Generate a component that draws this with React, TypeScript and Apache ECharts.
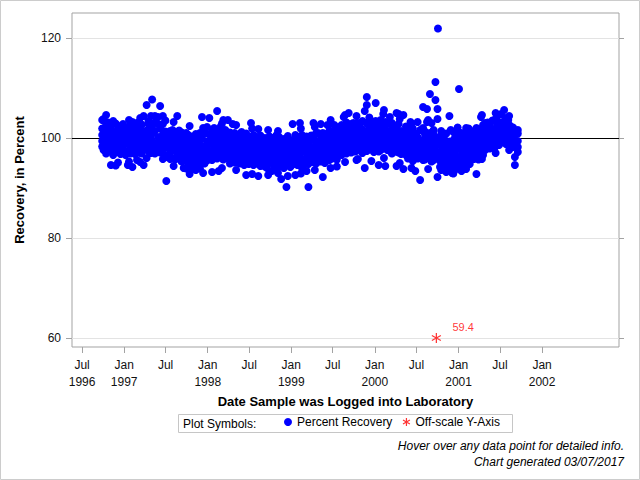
import React, { useEffect, useRef } from "react";
import * as echarts from "echarts";

// ---- Data: [sample log date, recovery values (%) logged around that date] ----
const samples1996 = [
  ["1996-09-27", [100.6, 103.6, 98.3, 101.9, 99.4]],
  ["1996-10-03", [99.2, 101.8, 97.6, 103.8, 100.4]],
  ["1996-10-14", [98.4, 102.6, 104.6, 99.8, 96.9]],
  ["1996-10-24", [100.9, 97.8, 103.1, 98.9, 101.5]],
  ["1996-11-04", [94.6, 99.6, 102.2, 97.3, 100.8]],
  ["1996-11-14", [98.1, 103.4, 96.6, 101.2, 99.0]],
  ["1996-11-25", [94.5, 100.2, 97.9, 102.9, 98.6]],
  ["1996-12-05", [99.4, 101.9, 97.2, 100.6, 95.1]],
  ["1996-12-16", [98.3, 102.4, 100.1, 96.8, 99.0]],
  ["1996-12-27", [101.3, 97.7, 99.7, 102.8, 98.5]],
];

const samples1997 = [
  ["1997-01-07", [100.4, 96.6, 98.9, 101.7, 99.3]],
  ["1997-01-17", [94.6, 99.9, 102.1, 97.4, 100.8]],
  ["1997-01-22", [103.6, 95.3]],
  ["1997-01-28", [98.2, 101.2, 96.9, 99.5, 102.6]],
  ["1997-02-06", [103.2, 97.9, 100.3, 94.2, 99.1]],
  ["1997-02-17", [101.6, 96.8, 99.8, 102.4, 98.6]],
  ["1997-02-26", [100.7, 97.3, 103.0, 99.2, 95.6]],
  ["1997-03-07", [103.2, 98.4, 100.9, 97.1, 101.8]],
  ["1997-03-12", [95.2, 104.0]],
  ["1997-03-18", [99.6, 102.7, 96.9, 100.2, 98.8]],
  ["1997-03-27", [104.4, 97.6, 101.4, 99.3, 94.6]],
  ["1997-04-09", [106.6, 98.2, 100.5, 96.0, 99.7]],
  ["1997-04-17", [102.9, 101.8, 97.4, 99.1, 103.4]],
  ["1997-04-28", [104.4, 98.9, 100.8, 97.0, 102.2]],
  ["1997-05-03", [107.7, 99.5, 102.5, 97.8, 100.9]],
  ["1997-05-15", [104.4, 98.3, 101.4, 96.9, 103.1]],
  ["1997-05-29", [100.2, 97.5, 102.8, 99.0, 104.2]],
  ["1997-06-07", [106.4, 99.8, 97.1, 101.9, 98.4]],
  ["1997-06-19", [104.4, 95.8, 100.7, 102.8, 97.8]],
  ["1997-06-30", [99.3, 96.6, 101.3, 98.1, 103.5]],
  ["1997-07-04", [91.4, 98.6, 100.9, 96.2, 99.6]],
  ["1997-07-21", [101.4, 97.2, 95.8, 99.9, 98.3]],
  ["1997-07-31", [100.6, 96.0, 98.8, 101.6, 97.5]],
  ["1997-08-05", [103.2, 94.4]],
  ["1997-08-11", [99.2, 95.7, 101.2, 97.9, 100.3]],
  ["1997-08-21", [104.4, 98.5, 96.4, 100.9, 97.2]],
  ["1997-08-29", [101.5, 96.9, 99.7, 95.9, 98.1]],
  ["1997-09-09", [100.8, 95.3, 98.2, 96.7, 101.1, 99.4]],
  ["1997-09-18", [94.0, 97.9, 100.2, 96.1, 98.9]],
  ["1997-09-29", [101.0, 95.8, 99.1, 97.3, 93.9]],
  ["1997-10-08", [97.2, 100.6, 95.1, 98.6, 94.6]],
  ["1997-10-14", [102.4, 92.8]],
  ["1997-10-20", [99.8, 96.3, 93.6, 97.8, 100.3]],
  ["1997-10-30", [95.7, 98.9, 96.8, 100.1, 94.3]],
  ["1997-11-10", [93.6, 97.5, 99.6, 95.4, 98.3, 100.8]],
  ["1997-11-19", [96.2, 99.1, 94.8, 97.0, 100.4]],
  ["1997-11-28", [98.6, 95.6, 101.0, 96.9, 93.9]],
  ["1997-12-07", [104.2, 97.6, 99.9, 95.3, 98.4]],
  ["1997-12-12", [93.0, 102.0]],
  ["1997-12-18", [96.4, 100.9, 94.9, 98.0, 101.4]],
  ["1997-12-29", [99.3, 96.9, 102.2, 97.7, 95.5]],
];

const samples1998 = [
  ["1998-01-08", [104.0, 98.8, 96.1, 100.7, 97.4]],
  ["1998-01-20", [95.6, 99.6, 101.6, 97.0, 93.2]],
  ["1998-01-29", [98.2, 100.3, 96.5, 102.0, 99.1]],
  ["1998-02-11", [105.4, 97.9, 100.9, 95.9, 98.6]],
  ["1998-02-18", [93.4, 99.4, 96.8, 101.3, 97.5]],
  ["1998-02-27", [100.1, 96.2, 98.3, 102.3, 99.0]],
  ["1998-03-04", [94.0, 102.9]],
  ["1998-03-10", [103.6, 97.1, 99.8, 95.7, 100.8]],
  ["1998-03-19", [98.7, 101.6, 96.4, 99.2, 97.6]],
  ["1998-03-30", [103.6, 95.9, 100.2, 98.1, 96.8]],
  ["1998-04-08", [99.5, 96.3, 101.1, 97.8, 94.9]],
  ["1998-04-20", [102.8, 98.4, 95.5, 100.3, 97.0]],
  ["1998-04-29", [96.6, 99.9, 95.1, 98.7, 101.0]],
  ["1998-05-05", [102.6, 93.6]],
  ["1998-05-11", [97.6, 100.5, 95.4, 99.0, 96.5]],
  ["1998-05-20", [94.9, 98.2, 100.6, 96.9, 99.6]],
  ["1998-05-29", [99.3, 95.8, 97.4, 101.2, 98.5]],
  ["1998-06-09", [96.1, 99.7, 94.6, 98.0, 100.4]],
  ["1998-06-18", [97.3, 100.9, 95.3, 98.8, 92.6]],
  ["1998-06-29", [99.2, 96.4, 94.8, 97.8, 100.1]],
  ["1998-07-09", [103.0, 97.0, 99.5, 95.2, 98.3]],
  ["1998-07-14", [92.8, 101.9]],
  ["1998-07-20", [96.0, 100.6, 94.6, 98.7, 97.6]],
  ["1998-07-30", [99.8, 95.6, 97.2, 100.2, 94.9]],
  ["1998-08-10", [101.8, 96.6, 92.4, 99.1, 97.9]],
  ["1998-08-19", [95.2, 98.4, 100.5, 96.3, 94.4]],
  ["1998-08-28", [97.1, 99.9, 95.8, 98.9, 96.7]],
  ["1998-09-08", [94.3, 98.1, 100.0, 96.2, 97.5]],
  ["1998-09-17", [99.4, 95.3, 97.0, 94.0, 98.6]],
  ["1998-09-22", [101.6, 92.6]],
  ["1998-09-28", [96.6, 100.3, 95.0, 98.0, 99.2]],
  ["1998-10-08", [93.4, 97.4, 99.6, 95.6, 98.4]],
  ["1998-10-19", [96.3, 100.1, 94.4, 97.8, 99.0]],
  ["1998-10-29", [98.7, 95.1, 97.1, 100.6, 94.1]],
  ["1998-11-04", [101.4, 93.0]],
  ["1998-11-09", [95.9, 99.3, 97.6, 94.3, 100.2]],
  ["1998-11-18", [97.0, 94.8, 98.8, 96.4, 91.8]],
  ["1998-11-30", [99.8, 95.5, 97.9, 94.0, 98.5]],
  ["1998-12-11", [90.2, 96.7, 99.1, 94.6, 97.6]],
  ["1998-12-17", [95.4, 100.4, 92.4, 98.3, 96.2]],
  ["1998-12-28", [97.3, 94.2, 99.6, 95.9, 98.9]],
];

const samples1999 = [
  ["1999-01-07", [102.8, 96.5, 99.0, 94.7, 97.7]],
  ["1999-01-19", [95.2, 100.6, 92.6, 98.1, 96.9]],
  ["1999-01-28", [99.4, 94.6, 97.5, 100.2, 95.7]],
  ["1999-02-08", [103.0, 98.3, 95.6, 100.0, 96.8]],
  ["1999-02-12", [101.9, 92.9]],
  ["1999-02-17", [94.0, 99.1, 97.3, 100.6, 95.1]],
  ["1999-02-26", [97.9, 95.8, 99.7, 94.7, 98.6]],
  ["1999-03-09", [93.4, 98.0, 100.3, 95.5, 97.0]],
  ["1999-03-17", [90.2, 96.4, 99.2, 94.8, 98.7]],
  ["1999-03-29", [100.5, 95.9, 97.6, 99.6, 96.6]],
  ["1999-04-08", [103.0, 97.3, 95.2, 99.8, 98.2]],
  ["1999-04-14", [102.2, 93.6]],
  ["1999-04-19", [96.1, 100.9, 94.9, 98.6, 97.2]],
  ["1999-04-28", [99.3, 95.6, 101.0, 97.8, 96.7]],
  ["1999-05-10", [102.8, 98.1, 95.3, 100.4, 96.9]],
  ["1999-05-19", [92.2, 97.5, 99.7, 95.9, 101.0]],
  ["1999-05-28", [98.9, 96.3, 100.8, 97.1, 95.0]],
  ["1999-06-08", [102.6, 98.5, 96.2, 100.6, 97.4]],
  ["1999-06-17", [95.6, 99.9, 101.5, 97.9, 96.6]],
  ["1999-06-22", [103.6, 94.0]],
  ["1999-06-28", [100.2, 97.0, 98.8, 101.2, 95.9]],
  ["1999-07-08", [102.6, 98.9, 96.4, 100.7, 97.8]],
  ["1999-07-19", [95.7, 99.6, 101.6, 97.3, 94.3]],
  ["1999-07-29", [100.9, 96.9, 99.2, 98.2, 102.1]],
  ["1999-08-09", [99.6, 102.6, 97.2, 100.8, 96.6]],
  ["1999-08-18", [104.2, 98.4, 101.7, 97.8, 99.9]],
  ["1999-08-24", [104.6, 95.2]],
  ["1999-08-30", [102.2, 96.9, 100.4, 98.9, 103.1]],
  ["1999-09-09", [105.0, 99.3, 101.9, 97.6, 100.7]],
  ["1999-09-20", [98.4, 102.8, 97.1, 100.1, 99.0]],
  ["1999-09-29", [101.4, 97.9, 103.0, 99.7, 98.6]],
  ["1999-10-08", [100.4, 97.3, 102.4, 98.8, 101.6]],
  ["1999-10-13", [104.4, 95.6]],
  ["1999-10-19", [95.8, 99.5, 103.0, 98.1, 100.9]],
  ["1999-10-28", [102.1, 97.6, 99.9, 101.3, 98.4]],
  ["1999-11-08", [103.4, 99.2, 101.7, 97.0, 100.5]],
  ["1999-11-18", [94.0, 98.5, 105.4, 100.0, 97.8]],
  ["1999-11-27", [108.2, 106.6, 101.1, 99.4, 97.4, 102.9]],
  ["1999-12-08", [104.1, 100.3, 97.7, 102.2, 99.1]],
  ["1999-12-17", [101.6, 98.3, 101.4, 95.4, 103.3]],
  ["1999-12-28", [99.8, 97.2, 102.7, 100.8, 98.6]],
];

const samples2000 = [
  ["2000-01-05", [107.0, 101.9, 98.2, 100.6, 103.4]],
  ["2000-01-18", [94.6, 99.4, 102.5, 97.3, 100.1]],
  ["2000-01-27", [101.2, 98.7, 103.6, 99.9, 97.6]],
  ["2000-02-07", [104.8, 100.4, 97.9, 102.1, 99.1]],
  ["2000-02-10", [105.6, 96.0]],
  ["2000-02-16", [94.4, 98.4, 101.6, 103.2, 100.8]],
  ["2000-02-25", [99.6, 97.6, 102.8, 100.0, 98.9]],
  ["2000-03-07", [104.2, 99.2, 101.4, 97.4, 100.6]],
  ["2000-03-16", [98.1, 102.6, 96.9, 100.1, 103.0]],
  ["2000-03-27", [100.9, 97.7, 99.5, 102.0, 98.6]],
  ["2000-04-05", [105.0, 99.8, 97.3, 101.7, 94.4]],
  ["2000-04-14", [104.8, 98.5, 100.7, 102.8, 97.1]],
  ["2000-04-19", [103.8, 95.0]],
  ["2000-04-25", [99.0, 101.4, 96.8, 100.2, 98.2]],
  ["2000-05-05", [104.6, 97.6, 100.4, 98.6, 93.8]],
  ["2000-05-16", [99.6, 102.3, 96.6, 100.9, 97.9]],
  ["2000-05-25", [98.9, 95.9, 101.6, 99.9, 97.2]],
  ["2000-06-05", [103.2, 98.0, 100.6, 96.4, 99.3]],
  ["2000-06-09", [102.8, 94.0]],
  ["2000-06-15", [96.1, 101.9, 97.6, 99.9, 95.4]],
  ["2000-06-26", [93.4, 98.7, 100.9, 96.9, 99.4]],
  ["2000-07-06", [103.2, 97.3, 100.2, 95.9, 98.6]],
  ["2000-07-17", [91.6, 99.6, 101.6, 96.5, 98.0]],
  ["2000-07-30", [106.2, 95.6, 97.9, 99.1, 102.0]],
  ["2000-08-07", [100.8, 97.0, 99.8, 95.7, 101.3]],
  ["2000-08-16", [105.8, 98.4, 96.4, 100.6, 103.2]],
  ["2000-08-21", [103.6, 93.8]],
  ["2000-08-29", [108.8, 99.3, 95.9, 97.7, 101.0]],
  ["2000-09-05", [103.0, 96.9, 99.9, 95.3, 98.5]],
  ["2000-09-14", [100.7, 97.6, 95.6, 101.6, 98.9]],
  ["2000-09-22", [111.2, 107.6, 98.3, 96.2, 100.1]],
  ["2000-10-01", [105.8, 103.8, 97.1, 99.5, 92.2]],
  ["2000-10-03", [121.9]],
  ["2000-10-12", [98.6, 95.4, 100.3, 96.8, 94.2]],
  ["2000-10-17", [101.4, 93.6, 99.8]],
  ["2000-10-23", [97.4, 94.7, 99.1, 96.0, 98.4]],
  ["2000-11-02", [95.0, 98.2, 99.6, 96.6, 94.1]],
  ["2000-11-08", [100.9, 93.2]],
  ["2000-11-13", [97.2, 99.0, 95.3, 93.9, 98.0]],
  ["2000-11-22", [104.4, 96.3, 99.3, 94.6, 97.3]],
  ["2000-11-28", [101.6, 93.5]],
  ["2000-12-04", [93.0, 96.8, 99.0, 95.4, 98.1]],
  ["2000-12-09", [101.2, 92.9]],
  ["2000-12-13", [96.2, 94.2, 98.6, 99.8, 97.3]],
  ["2000-12-22", [99.4, 95.2, 97.6, 96.4, 93.8]],
  ["2000-12-28", [100.8, 94.0, 102.1]],
];

const samples2001 = [
  ["2001-01-03", [109.8]],
  ["2001-01-09", [96.1, 98.3, 94.4, 99.4, 95.3]],
  ["2001-01-14", [101.0, 93.4]],
  ["2001-01-18", [97.0, 99.8, 95.0, 97.9, 96.6]],
  ["2001-01-29", [98.8, 94.6, 97.4, 100.3, 95.9]],
  ["2001-02-03", [102.0, 93.8]],
  ["2001-02-08", [95.5, 98.6, 100.6, 96.9, 99.4]],
  ["2001-02-14", [101.9]],
  ["2001-02-19", [100.1, 96.0, 98.0, 94.8, 99.0]],
  ["2001-02-28", [97.4, 100.8, 96.3, 99.6, 98.2]],
  ["2001-03-09", [99.1, 95.8, 101.4, 97.7, 100.4]],
  ["2001-03-20", [92.8, 98.4, 100.0, 96.6, 102.0]],
  ["2001-03-29", [101.1, 97.2, 99.6, 98.1, 95.7]],
  ["2001-04-09", [104.2, 99.3, 101.8, 97.7, 100.6]],
  ["2001-04-13", [95.8, 104.6]],
  ["2001-04-18", [98.6, 102.6, 96.6, 100.0, 101.2]],
  ["2001-04-27", [100.5, 97.6, 103.0, 99.2, 101.7]],
  ["2001-05-08", [102.3, 98.4, 100.9, 103.1, 99.6]],
  ["2001-05-17", [97.9, 101.6, 99.0, 102.9, 100.2]],
  ["2001-05-29", [103.5, 99.3, 101.3, 98.6, 100.7]],
  ["2001-06-07", [101.8, 99.1, 103.6, 100.4, 98.0]],
  ["2001-06-12", [97.0, 105.0]],
  ["2001-06-18", [102.6, 100.0, 98.7, 104.2, 101.3]],
  ["2001-06-27", [99.5, 103.1, 101.0, 98.6, 102.2]],
  ["2001-07-06", [104.8, 100.6, 102.7, 99.2, 101.7]],
  ["2001-07-19", [105.6, 101.2, 103.4, 99.8, 100.3]],
  ["2001-07-27", [102.1, 100.9, 104.0, 98.8, 101.6]],
  ["2001-08-06", [103.6, 100.2, 101.9, 99.3, 102.8]],
  ["2001-08-10", [97.6, 104.4]],
  ["2001-08-15", [101.0, 99.6, 102.4, 100.7, 98.9]],
  ["2001-08-27", [100.6, 102.1, 99.4, 101.5, 98.2]],
  ["2001-09-04", [101.2, 96.2, 99.0, 94.6, 100.6]],
  ["2001-09-17", [98.2, 100.9, 97.2, 101.6, 99.4]],
];

// Sample below the y-axis range, shown at the axis floor with its true value
const offScaleSamples = [{ date: "2000-09-26", value: 59.4 }];
const offScaleFloor = 60;

// Axes
const xRange = ["1996-05-18", "2002-12-03"];
const yRange = [58.2, 125];
const xTickDates = [
  "1996-07-01", "1997-01-01", "1997-07-01", "1998-01-01", "1998-07-01", "1999-01-01",
  "1999-07-01", "2000-01-01", "2000-07-01", "2001-01-01", "2001-07-01", "2002-01-01",
];
const xTickLabels = [
  "Jul\n1996", "Jan\n1997", "Jul", "Jan\n1998", "Jul", "Jan\n1999",
  "Jul", "Jan\n2000", "Jul", "Jan\n2001", "Jul", "Jan\n2002",
];
const yTicks = [60, 80, 100, 120];
const yTickLabels = ["60", "80", "100", "120"];
const referenceValue = 100;
const gridValues = [60, 80, 120];

const FONT = "'Liberation Sans', Arial, Helvetica, sans-serif";
const ASTERISK = "path://M0,-5L0,5M-4.33,-2.5L4.33,2.5M-4.33,2.5L4.33,-2.5";

const ts = (s: string) => Date.parse(s + "T00:00:00Z");

export default function App() {
  const ref = useRef<HTMLDivElement>(null);

  useEffect(() => {
    if (!ref.current) return;
    const chart = echarts.init(ref.current, null, { renderer: "svg" });

    const allSamples = [
      ...samples1996, ...samples1997, ...samples1998,
      ...samples1999, ...samples2000, ...samples2001,
    ] as [string, number[]][];
    const points: [number, number][] = [];
    allSamples.forEach(([d, vals]) => vals.forEach((v) => points.push([ts(d), v])));

    const offPoints = offScaleSamples.map((s) => ({
      value: [ts(s.date), Math.max(s.value, offScaleFloor)],
      actual: s.value,
    }));

    const xTickTs = xTickDates.map(ts);

    const option = {
      animation: false,
      backgroundColor: "#ffffff",
      textStyle: { fontFamily: FONT },
      grid: {
        left: 72,
        right: 21,
        top: 13,
        bottom: 133,
        show: true,
        borderColor: "#a3a3a3",
        borderWidth: 1,
        backgroundColor: "transparent",
      },
      legend: {
        left: 284,
        top: 416,
        padding: 0,
        itemWidth: 8,
        itemHeight: 8,
        itemGap: 10,
        selectedMode: false,
        textStyle: { fontFamily: FONT, fontSize: 12, color: "#000" },
        data: [
          { name: "Percent Recovery", icon: "circle", itemStyle: { color: "#0000ff" } },
          {
            name: "Off-scale Y-Axis",
            icon: ASTERISK,
            itemStyle: { color: "#ff0000", borderColor: "#ff0000", borderWidth: 1.2 },
          },
        ],
      },
      xAxis: {
        type: "value",
        min: ts(xRange[0]),
        max: ts(xRange[1]),
        scale: true,
        name: "Date Sample was Logged into Laboratory",
        nameLocation: "middle",
        nameGap: 45,
        nameTextStyle: { fontFamily: FONT, fontSize: 13, fontWeight: "bold", color: "#000" },
        axisLine: { show: false },
        axisTick: {
          show: true,
          length: 6,
          customValues: xTickTs,
          lineStyle: { color: "#a3a3a3" },
        },
        axisLabel: {
          customValues: xTickTs,
          margin: 9,
          fontFamily: FONT,
          fontSize: 12,
          lineHeight: 17,
          color: "#111",
          verticalAlign: "top",
          formatter: (v: number) => {
            const i = xTickTs.indexOf(v);
            return i >= 0 ? xTickLabels[i] : "";
          },
        },
        splitLine: { show: false },
      },
      yAxis: [
        {
          type: "value",
          min: yRange[0],
          max: yRange[1],
          name: "Recovery, in Percent",
          nameLocation: "middle",
          nameGap: 46,
          nameTextStyle: { fontFamily: FONT, fontSize: 13, fontWeight: "bold", color: "#000" },
          axisLine: { show: false },
          axisTick: {
            show: true,
            length: 6,
            customValues: yTicks,
            lineStyle: { color: "#a3a3a3" },
          },
          axisLabel: {
            customValues: yTicks,
            margin: 11,
            fontFamily: FONT,
            fontSize: 12,
            color: "#111",
            formatter: (v: number) => {
              const i = yTicks.indexOf(v);
              return i >= 0 ? yTickLabels[i] : "";
            },
          },
          splitLine: { show: false },
        },
        {
          type: "value",
          position: "right",
          min: yRange[0],
          max: yRange[1],
          axisLine: { show: false },
          axisTick: {
            show: true,
            length: 5,
            customValues: yTicks,
            lineStyle: { color: "#a3a3a3" },
          },
          axisLabel: { show: false },
          splitLine: { show: false },
        },
      ],
      series: [
        {
          name: "reference",
          type: "line",
          data: [],
          z: 1,
          silent: true,
          markLine: {
            z: 1,
            silent: true,
            symbol: "none",
            label: { show: false },
            data: [
              ...gridValues.map((g) => ({ yAxis: g, lineStyle: { color: "#e3e3e3", width: 1, type: "solid" } })),
              { yAxis: referenceValue, lineStyle: { color: "#000000", width: 1, type: "solid" } },
            ],
          },
        },
        {
          name: "Percent Recovery",
          type: "scatter",
          z: 3,
          symbol: "circle",
          symbolSize: 8,
          itemStyle: { color: "#0000ff", opacity: 1 },
          data: points,
        },
        {
          name: "Off-scale Y-Axis",
          type: "scatter",
          z: 4,
          symbol: ASTERISK,
          symbolSize: [9, 10],
          itemStyle: { color: "#ff0000", borderColor: "#ff0000", borderWidth: 1.3 },
          label: {
            show: true,
            position: "right",
            distance: 11,
            offset: [0, -11],
            fontFamily: FONT,
            fontSize: 11,
            color: "#ff0000",
            formatter: (p: any) => String(p.data.actual),
          },
          data: offPoints,
        },
      ],
      graphic: [
        {
          type: "rect",
          silent: true,
          shape: { x: 0.5, y: 0.5, width: 639, height: 479 },
          style: { fill: "none", stroke: "#cccccc", lineWidth: 1 },
        },
        {
          type: "rect",
          silent: true,
          shape: { x: 178.5, y: 414.5, width: 334, height: 18 },
          style: { fill: "none", stroke: "#c6c6c6", lineWidth: 1 },
        },
        {
          type: "text",
          x: 183,
          y: 423.5,
          style: {
            text: "Plot Symbols:",
            font: `12px ${FONT}`,
            fill: "#000",
            verticalAlign: "middle",
          },
        },
        {
          type: "text",
          x: 624,
          y: 446,
          style: {
            text: "Hover over any data point for detailed info.",
            font: `italic 12px ${FONT}`,
            fill: "#000",
            align: "right",
            verticalAlign: "middle",
          },
        },
        {
          type: "text",
          x: 624,
          y: 462,
          style: {
            text: "Chart generated 03/07/2017",
            font: `italic 12px ${FONT}`,
            fill: "#000",
            align: "right",
            verticalAlign: "middle",
          },
        },
      ],
    };

    chart.setOption(option as any);
    return () => chart.dispose();
  }, []);

  return (
    <div
      ref={ref}
      style={{ position: "fixed", left: 0, top: 0, width: 640, height: 480, background: "#fff" }}
    />
  );
}
